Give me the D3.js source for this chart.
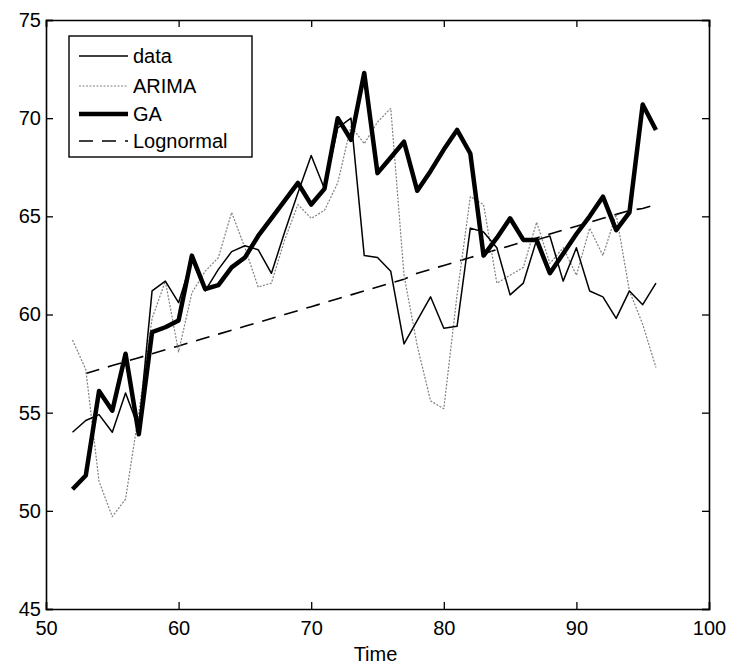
<!DOCTYPE html>
<html><head><meta charset="utf-8">
<script src="https://cdn.jsdelivr.net/npm/d3@7"></script>
<style>body{margin:0;background:#fff}svg{display:block}</style>
</head><body>
<svg id="c" width="733" height="667"></svg>
<script>
const years = d3.range(52, 97);
const dataVals = [54.0,54.6,54.9,54.0,56.0,54.2,61.2,61.7,60.6,62.8,61.2,62.3,63.2,63.5,63.3,62.1,64.2,66.2,68.1,66.4,69.5,70.0,63.0,62.9,62.2,58.5,59.7,60.9,59.3,59.4,64.4,64.2,63.4,61.0,61.6,63.8,64.0,61.7,63.4,61.2,60.9,59.8,61.2,60.5,61.6];
const arimaVals = [58.7,57.2,51.5,49.7,50.6,55.0,59.8,61.7,58.1,61.1,62.2,62.9,65.2,63.4,61.4,61.6,63.8,65.6,64.9,65.3,66.7,69.6,68.7,69.8,70.5,62.0,58.4,55.6,55.2,61.0,66.0,65.6,61.6,62.0,62.4,64.7,62.6,63.4,62.0,64.4,63.0,65.1,61.2,59.5,57.3];
const gaVals = [51.1,51.8,56.1,55.1,58.0,53.9,59.1,59.35,59.7,63.0,61.3,61.5,62.4,62.9,64.0,64.9,65.8,66.7,65.6,66.4,70.0,68.9,72.3,67.2,68.0,68.8,66.3,67.3,68.4,69.4,68.2,63.0,63.9,64.9,63.8,63.8,62.1,63.1,64.1,65.0,66.0,64.3,65.2,70.7,69.4];
const logYears = d3.range(53, 97);
const logVals = [57.0,57.2,57.4,57.6,57.8,58.0,58.2,58.4,58.6,58.8,59.0,59.2,59.4,59.6,59.8,60.0,60.2,60.4,60.6,60.8,61.0,61.2,61.4,61.6,61.8,62.1,62.3,62.5,62.7,62.9,63.1,63.3,63.5,63.7,63.9,64.1,64.3,64.5,64.7,64.9,65.1,65.3,65.4,65.6];
const xTicks = [50,60,70,80,90,100];
const yTicks = [45,50,55,60,65,70,75];
const legendLabels = ["data","ARIMA","GA","Lognormal"];

const svg = d3.select("#c");
const L=46,R=709,T=20,B=609;
const x = d3.scaleLinear().domain([50,100]).range([L,R]);
const y = d3.scaleLinear().domain([45,75]).range([B,T]);
const font = "'Liberation Sans', Arial, Helvetica, sans-serif";

// axes
const tl = 7;
const gB = svg.append("g").attr("transform",`translate(0,${B})`).call(d3.axisBottom(x).tickValues(xTicks).tickSize(-tl).tickPadding(12));
const gT = svg.append("g").attr("transform",`translate(0,${T})`).call(d3.axisTop(x).tickValues(xTicks).tickSize(-tl).tickFormat(""));
const gL = svg.append("g").attr("transform",`translate(${L},0)`).call(d3.axisLeft(y).tickValues(yTicks).tickSize(-tl).tickPadding(5));
const gR = svg.append("g").attr("transform",`translate(${R},0)`).call(d3.axisRight(y).tickValues(yTicks).tickSize(-tl).tickFormat(""));
[gB,gT,gL,gR].forEach(g=>{
  g.select(".domain").attr("stroke","#000").attr("stroke-width",1.6);
  g.selectAll(".tick line").attr("stroke","#000").attr("stroke-width",1.3);
  g.selectAll("text").attr("font-family",font).attr("font-size",20).attr("fill","#000");
});
gL.selectAll("text").attr("dy","0.32em");

svg.append("text").attr("x",(L+R)/2 - 2).attr("y",661).attr("text-anchor","middle")
  .attr("font-family",font).attr("font-size",20).text("Time");

const line = d3.line().x(d=>x(d[0])).y(d=>y(d[1]));
const styles = [
  {stroke:"#000", w:1.5, dash:null},
  {stroke:"#808080", w:1.2, dash:"2,1.5"},
  {stroke:"#000", w:4.5, dash:null},
  {stroke:"#000", w:1.6, dash:"14,9"}
];
const series = [
  years.map((t,i)=>[t,dataVals[i]]),
  years.map((t,i)=>[t,arimaVals[i]]),
  years.map((t,i)=>[t,gaVals[i]]),
  logYears.map((t,i)=>[t,logVals[i]])
];
const order=[3,1,0,2];
order.forEach(k=>{
  svg.append("path").datum(series[k]).attr("d",line).attr("fill","none")
    .attr("stroke",styles[k].stroke).attr("stroke-width",styles[k].w)
    .attr("stroke-linejoin","round")
    .attr("stroke-dasharray",styles[k].dash);
});

// legend
const lg = svg.append("g");
lg.append("rect").attr("x",69).attr("y",36).attr("width",183).attr("height",121)
  .attr("fill","#fff").attr("stroke","#000").attr("stroke-width",1.4);
const rowY=[56,86,114,141];
legendLabels.forEach((lab,i)=>{
  lg.append("line").attr("x1",79).attr("x2",128).attr("y1",rowY[i]).attr("y2",rowY[i])
    .attr("stroke",styles[i].stroke).attr("stroke-width",styles[i].w)
    .attr("stroke-dasharray",styles[i].dash);
  lg.append("text").attr("x",133).attr("y",rowY[i]).attr("dy","0.35em")
    .attr("font-family",font).attr("font-size",20).text(lab);
});
</script>
</body></html>
